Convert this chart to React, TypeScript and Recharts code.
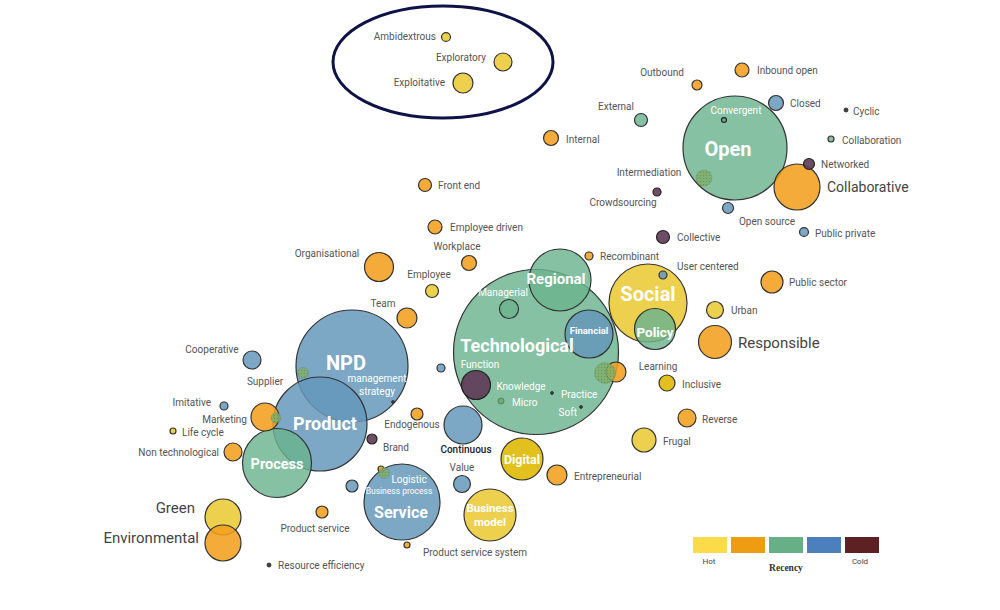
import React from 'react';
import { ScatterChart, Scatter, XAxis, YAxis, ZAxis, ReferenceDot } from 'recharts';

// ---- data ----
const names = [
  'Ambidextrous', 'Exploratory', 'Exploitative', 'Outbound', 'Inbound open', 'External', 'Closed', 'Cyclic',
  'Collaboration', 'Open', 'Convergent', 'Networked', 'Collaborative', 'Intermediation', 'Crowdsourcing',
  'Open source', 'Public private', 'Collective', 'Internal', 'Front end', 'Employee driven', 'Workplace',
  'Organisational', 'Employee', 'Team', 'Managerial', 'Recombinant', 'Regional', 'Technological', 'Financial',
  'Social', 'User centered', 'Policy', 'Urban', 'Responsible', 'Public sector', 'Learning', 'Learning (overlap)',
  'Function', 'Knowledge', 'Micro', 'Practice', 'Soft', 'Unlabelled 1', 'Continuous', 'Inclusive', 'Reverse',
  'Frugal', 'Entrepreneurial', 'NPD', 'management strategy', 'Supplier', 'Product', 'Cooperative', 'Imitative',
  'Marketing', 'Life cycle', 'Non technological', 'Process', 'Endogenous', 'Brand', 'Unlabelled 2', 'Logistic',
  'Business process', 'Service', 'Unlabelled 3', 'Value', 'Digital', 'Business model', 'Product service system',
  'Green', 'Environmental', 'Product service', 'Resource efficiency', 'Marketing (overlap)',
];
const xs = [
  446, 503, 463, 697, 742, 641, 776, 846,
  831, 735, 724, 809, 797, 704, 657,
  728, 804, 663, 551, 425, 435, 469,
  379, 432, 407, 509, 589, 560, 536, 589,
  648, 663, 655, 715, 715, 772, 616, 605,
  476, 521, 501, 552, 581, 441, 463, 667, 687,
  644, 557, 352, 393, 303, 320, 252, 224,
  265, 173, 233, 277, 417, 372, 381, 384,
  399, 402, 352, 462, 522, 490, 407,
  223, 223, 322, 269, 276,
];
const ys = [
  37, 62, 83, 85, 70, 120, 103, 110,
  139, 148, 120, 164, 187, 178, 192,
  208, 232, 237, 138, 185, 227, 263,
  267, 291, 318, 309, 256, 280, 352, 334,
  303, 275, 329, 310, 342, 282, 372, 373,
  385, 386, 401, 393, 407, 368, 425, 383, 418,
  440, 475, 366, 402, 373, 424, 360, 406,
  417, 431, 452, 463, 414, 439, 469, 473,
  491, 502, 486, 484, 459, 515, 545,
  517, 543, 512, 565, 418,
];
const weights = [
  20, 81, 100, 25, 49, 42, 56, 4,
  9, 2704, 6, 30, 529, 64, 16,
  30, 20, 42, 56, 42, 49, 56,
  210, 42, 100, 90, 16, 961, 6806, 576,
  1521, 16, 420, 72, 272, 121, 100, 110,
  210, 0, 9, 2, 2, 16, 361, 64, 81,
  144, 100, 3136, 2, 30, 2209, 81, 16,
  196, 9, 81, 1190, 36, 25, 9, 30,
  0, 1444, 36, 72, 441, 676, 9,
  324, 324, 36, 4, 25,
];
// Y hot yellow, YD deep yellow, O orange, G green, B blue, P purple, H overlap hatch, D dark dot, N none
const recency = [
  'Y', 'Y', 'Y', 'O', 'O', 'G', 'B', 'D',
  'G', 'G', 'C', 'P', 'O', 'H', 'P',
  'B', 'B', 'P', 'O', 'O', 'O', 'O',
  'O', 'Y', 'O', 'G', 'O', 'G', 'G', 'B',
  'Y', 'B', 'G', 'Y', 'O', 'O', 'O', 'H',
  'P', 'N', 'M', 'D', 'D', 'B', 'B', 'YD', 'O',
  'Y', 'O', 'B', 'D', 'H', 'B', 'B', 'B',
  'O', 'Y', 'O', 'G', 'O', 'P', 'O', 'H',
  'N', 'B', 'B', 'B', 'YD', 'Y', 'O',
  'Y', 'O', 'O', 'D', 'H',
];
const legendColors = ['#FBDB4A', '#EE9C11', '#67AF87', '#4B80BD', '#5E2123'];
const legendLabels = ['Hot', 'Recency', 'Cold'];

const rows = names.map((name, i) => ({ name, x: xs[i], y: ys[i], w: weights[i], rec: recency[i] }));
const order = (r: any) => (r.rec === 'H' ? 1 : 0);
const circleRows = [...rows].filter((r) => r.w > 0).sort((a, b) => order(a) - order(b) || b.w - a.w);

// ---- styles ----
const palette: Record<string, any> = {
  Y: { fill: '#E9C936', op: 0.88, stroke: '#333', sw: 1.2 },
  YD: { fill: '#E0BC0C', op: 0.92, stroke: '#333', sw: 1.2 },
  O: { fill: '#F29F1E', op: 0.88, stroke: '#333', sw: 1.2 },
  G: { fill: '#6AB38D', op: 0.82, stroke: '#333', sw: 1.2 },
  M: { fill: '#6FA86A', op: 0.9, stroke: '#4E7A4E', sw: 0.8 },
  C: { fill: '#6AB38D', op: 1, stroke: '#222', sw: 1.2 },
  B: { fill: '#6598BB', op: 0.85, stroke: '#333', sw: 1.2 },
  P: { fill: '#5E3A56', op: 0.9, stroke: '#222', sw: 1.2 },
  H: { fill: 'url(#hatchDots)', op: 0.85, stroke: 'rgba(90,120,80,0.35)', sw: 0.8 },
  D: { fill: '#444', op: 1, stroke: '#222', sw: 0.8 },
};

const GRAY = '#555';
const DARK = '#444';
const W = '#ffffff';
const S = 10;
type LS = [number, number, 's' | 'm' | 'e', number, string, number, string[]?];
const labelStyles: Record<string, LS> = {
  Ambidextrous: [-10, -1, 'e', S, GRAY, 400],
  Exploratory: [-17, -5, 'e', S, GRAY, 400],
  Exploitative: [-18, -1, 'e', S, GRAY, 400],
  Outbound: [-35, -13, 'm', S, GRAY, 400],
  'Inbound open': [15, 0, 's', S, GRAY, 400],
  External: [-25, -14, 'm', S, GRAY, 400],
  Closed: [14, 0, 's', S, GRAY, 400],
  Cyclic: [7, 1, 's', S, GRAY, 400],
  Collaboration: [11, 1, 's', S, GRAY, 400],
  Open: [-7, 1, 'm', 20, W, 700],
  Convergent: [12, -10, 'm', S, W, 400],
  Networked: [12, 0, 's', S, GRAY, 400],
  Collaborative: [30, 0, 's', 14, DARK, 400],
  Intermediation: [-55, -6, 'm', S, GRAY, 400],
  Crowdsourcing: [-34, 10, 'm', S, GRAY, 400],
  'Open source': [39, 13, 'm', S, GRAY, 400],
  'Public private': [11, 1, 's', S, GRAY, 400],
  Collective: [14, 0, 's', S, GRAY, 400],
  Internal: [15, 1, 's', S, GRAY, 400],
  'Front end': [13, 0, 's', S, GRAY, 400],
  'Employee driven': [15, 0, 's', S, GRAY, 400],
  Workplace: [-12, -17, 'm', S, GRAY, 400],
  Organisational: [-52, -14, 'm', S, GRAY, 400],
  Employee: [-3, -17, 'm', S, GRAY, 400],
  Team: [-24, -15, 'm', S, GRAY, 400],
  Managerial: [-6, -17, 'm', S, W, 400],
  Recombinant: [11, 0, 's', S, GRAY, 400],
  Regional: [-4, -1, 'm', 15, W, 700],
  Technological: [-19, -6, 'm', 18, W, 700],
  Financial: [0, -3, 'm', 9.5, W, 700],
  Social: [0, -9, 'm', 20, W, 700],
  'User centered': [14, -9, 's', S, GRAY, 400],
  Policy: [0, 3, 'm', 13.5, W, 700],
  Urban: [16, 0, 's', S, GRAY, 400],
  Responsible: [23, 1, 's', 15, DARK, 400],
  'Public sector': [17, 0, 's', S, GRAY, 400],
  Learning: [42, -6, 'm', S, GRAY, 400],
  Function: [4, -21, 'm', S, W, 400],
  Knowledge: [0, 0, 'm', S, W, 400],
  Micro: [11, 1, 's', S, W, 400],
  Practice: [9, 1, 's', S, W, 400],
  Soft: [-4, 5, 'e', S, W, 400],
  Continuous: [3, 24, 'm', S, '#222', 500],
  Inclusive: [15, 1, 's', S, GRAY, 400],
  Reverse: [15, 1, 's', S, GRAY, 400],
  Frugal: [19, 1, 's', S, GRAY, 400],
  Entrepreneurial: [17, 1, 's', S, GRAY, 400],
  NPD: [-6, -3, 'm', 20, W, 700],
  'management strategy': [-16, -17, 'm', S, W, 400, ['management', 'strategy']],
  Supplier: [-38, 8, 'm', S, GRAY, 400],
  Product: [5, 0, 'm', 18, W, 700],
  Cooperative: [-40, -11, 'm', S, GRAY, 400],
  Imitative: [-13, -4, 'e', S, GRAY, 400],
  Marketing: [-18, 2, 'e', S, GRAY, 400],
  'Life cycle': [9, 1, 's', S, GRAY, 400],
  'Non technological': [-14, 0, 'e', S, GRAY, 400],
  Process: [0, 1, 'm', 14.5, W, 700],
  Endogenous: [-5, 10, 'm', S, GRAY, 400],
  Brand: [24, 8, 'm', S, GRAY, 400],
  Logistic: [25, 6, 'm', S, W, 400],
  'Business process': [0, 0, 'm', 8.5, W, 400],
  Service: [-1, 10, 'm', 16, W, 700],
  Value: [0, -17, 'm', S, GRAY, 400],
  Digital: [0, 1, 'm', 12.5, W, 700],
  'Business model': [0, 0, 'm', 11.5, W, 700, ['Business', 'model']],
  'Product service system': [16, 7, 's', S, GRAY, 400],
  Green: [-28, -9, 'e', 15, DARK, 400],
  Environmental: [-24, -5, 'e', 15, DARK, 400],
  'Product service': [-7, 16, 'm', S, GRAY, 400],
  'Resource efficiency': [9, 0, 's', S, GRAY, 400],
};

const FONT = 'Roboto, "Noto Sans", sans-serif';
const anchorMap: Record<string, any> = { s: 'start', m: 'middle', e: 'end' };

const BubbleShape = (props: any) => {
  const { cx, cy, size, payload } = props;
  const st = palette[payload.rec];
  const r = Math.sqrt(Math.max(size || 0, 0) / Math.PI);
  if (!st || !(r > 0)) return <g />;
  return (
    <circle cx={cx} cy={cy} r={r} fill={st.fill} fillOpacity={st.op} stroke={st.stroke} strokeWidth={st.sw} />
  );
};

const LabelShape = (props: any) => {
  const { cx, cy, payload } = props;
  const ls = labelStyles[payload.name];
  if (!ls) return <g />;
  const [dx, dy, an, fs, color, fw, lines] = ls;
  const texts = lines || [payload.name];
  const lh = fs * 1.28;
  const start = cy + dy - ((texts.length - 1) * lh) / 2;
  return (
    <g>
      {texts.map((t, i) => (
        <text
          key={i}
          x={cx + dx}
          y={start + i * lh + fs * 0.35}
          textAnchor={anchorMap[an]}
          fontSize={fs}
          fontWeight={fw}
          fill={color}
          fontFamily={FONT}
        >
          {t}
        </text>
      ))}
    </g>
  );
};

const EllipseShape = (props: any) => {
  const { cx, cy } = props;
  return (
    <g>
      <defs>
        <pattern id="hatchDots" width="3" height="3" patternUnits="userSpaceOnUse">
          <rect width="3" height="3" fill="#7FAE6C" />
          <circle cx="1.5" cy="1.5" r="0.6" fill="#5E8C4C" />
        </pattern>
      </defs>
      <ellipse cx={cx} cy={cy} rx={110} ry={56} fill="none" stroke="#0E1247" strokeWidth={3} />
    </g>
  );
};

export default function App() {
  return (
    <div style={{ position: 'absolute', left: 0, top: 0, width: 1000, height: 610, background: '#fff' }}>
      <ScatterChart width={1000} height={610} margin={{ top: 0, right: 0, bottom: 0, left: 0 }}>
        <XAxis type="number" dataKey="x" domain={[0, 1000]} hide allowDataOverflow />
        <YAxis type="number" dataKey="y" domain={[0, 610]} reversed hide allowDataOverflow />
        <ZAxis type="number" dataKey="w" domain={[0, 7000]} range={[0, 7000 * Math.PI]} />
        <ReferenceDot x={443} y={62} r={1} shape={EllipseShape} isFront={false} />
        <Scatter data={circleRows} shape={BubbleShape} isAnimationActive={false} />
        <Scatter data={rows} shape={LabelShape} isAnimationActive={false} />
      </ScatterChart>
      <div style={{ position: 'absolute', left: 693, top: 537, display: 'flex', gap: 4 }}>
        {legendColors.map((c) => (
          <div key={c} style={{ width: 34, height: 16, background: c }} />
        ))}
      </div>
      <div style={{ position: 'absolute', left: 694, top: 557, width: 30, textAlign: 'center', fontFamily: FONT, fontSize: 8, color: '#444' }}>
        {legendLabels[0]}
      </div>
      <div style={{ position: 'absolute', left: 756, top: 563, width: 60, textAlign: 'center', fontFamily: '"Liberation Serif", "DejaVu Serif", serif', fontWeight: 700, fontSize: 9.5, color: '#333' }}>
        {legendLabels[1]}
      </div>
      <div style={{ position: 'absolute', left: 845, top: 557, width: 30, textAlign: 'center', fontFamily: FONT, fontSize: 8, color: '#444' }}>
        {legendLabels[2]}
      </div>
    </div>
  );
}
